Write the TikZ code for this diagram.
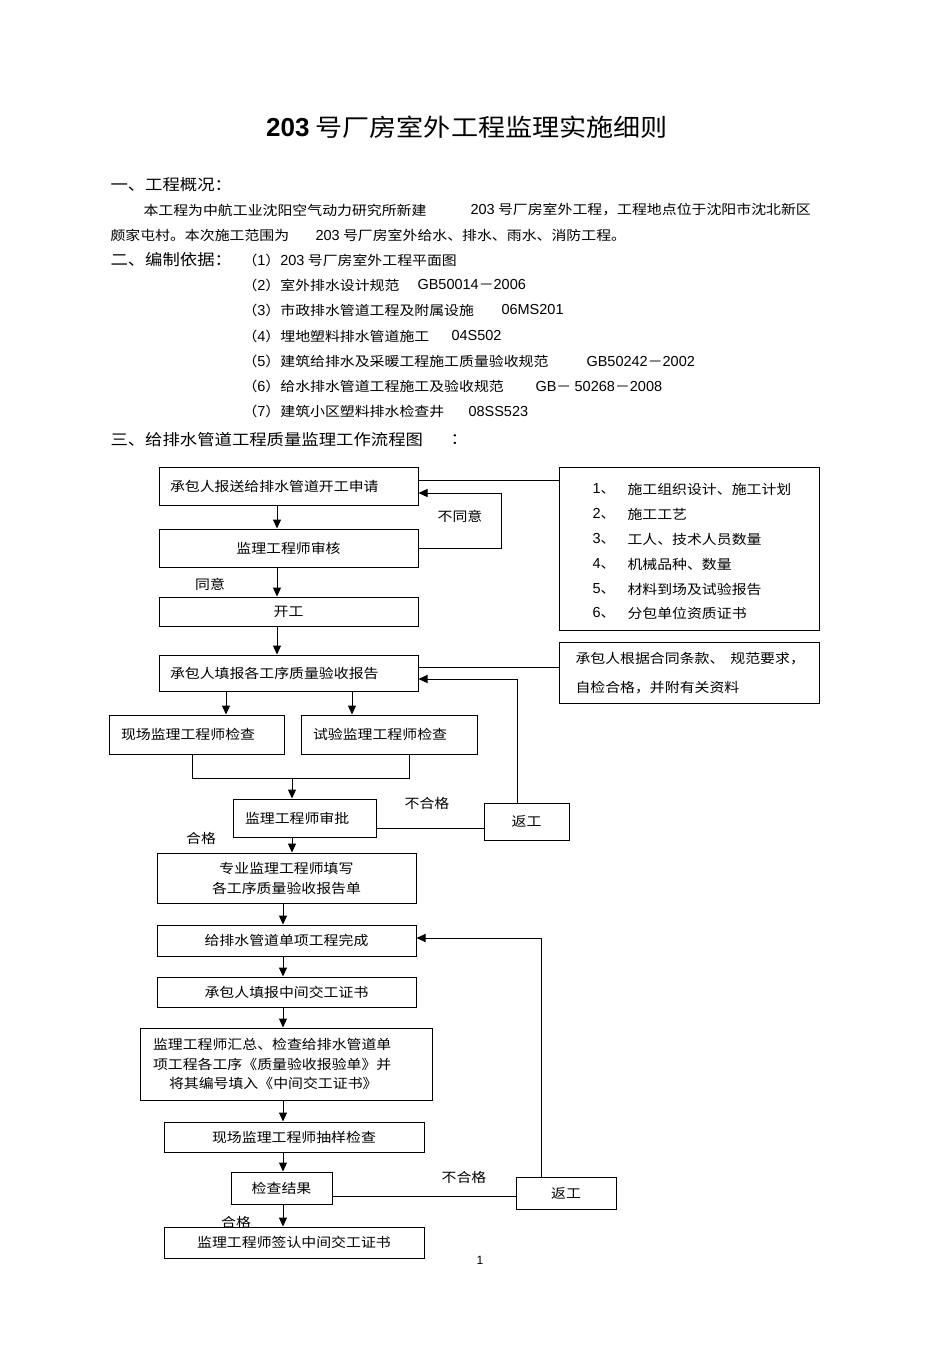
\documentclass[tikz,border=0pt]{standalone}
\usepackage{fontspec}
\setmainfont{Liberation Sans}
\newfontfamily\cjk[FakeStretch=1.12]{Noto Sans CJK SC}
\newfontfamily\latf{Liberation Sans}
\newcommand\latn[1]{{\latf\fontsize{14.5}{19.5}\selectfont #1}}
\usetikzlibrary{arrows.meta}
\begin{document}
\begin{tikzpicture}[x=1pt,y=-1pt,line width=1pt,
  box/.style={draw, inner sep=0pt, font=\cjk\fontsize{13.3}{20}\selectfont, align=center},
  txt/.style={inner sep=0pt, anchor=west, font=\cjk\fontsize{13.3}{20}\selectfont},
  lbl/.style={inner sep=0pt, font=\cjk\fontsize{13.3}{20}\selectfont},
  hd/.style={txt, font=\cjk\fontsize{15.5}{20}\selectfont},
  arr/.style={-{Triangle[length=9pt,width=8pt]}}]
\path[fill=white, use as bounding box] (0,0) rectangle (950,1345);

% ---------- header text ----------
\node[inner sep=0pt] (title) at (467,127) {{\latf\bfseries\fontsize{26}{30}\selectfont 203}\hspace{6pt}{\cjk\fontsize{24.2}{30}\selectfont 号厂房室外工程监理实施细则}};
\node[hd] (h1) at (110,185) {一、工程概况：};
\node[txt] (p1a) at (143,210) {本工程为中航工业沈阳空气动力研究所新建};
\node[txt] (p1b) at (470,210) {\latn{203} 号厂房室外工程，工程地点位于沈阳市沈北新区};
\node[txt] (p2a) at (110,235) {颇家屯村。本次施工范围为};
\node[txt] (p2b) at (315,235) {\latn{203} 号厂房室外给水、排水、雨水、消防工程。};
\node[hd] (h2) at (110,260) {二、编制依据：};
\node[txt] (s1) at (242,260) {（\latn{1}）\latn{203} 号厂房室外工程平面图};
\node[txt] (s2) at (242,285) {（\latn{2}）室外排水设计规范};
\node[txt] (s2c) at (417,285) {\latn{GB50014}－\latn{2006}};
\node[txt] (s3) at (242,310) {（\latn{3}）市政排水管道工程及附属设施};
\node[txt] (s3c) at (501,310) {\latn{06MS201}};
\node[txt] (s4) at (242,336) {（\latn{4}）埋地塑料排水管道施工};
\node[txt] (s4c) at (451,336) {\latn{04S502}};
\node[txt] (s5) at (242,361) {（\latn{5}）建筑给排水及采暖工程施工质量验收规范};
\node[txt] (s5c) at (586,361) {\latn{GB50242}－\latn{2002}};
\node[txt] (s6) at (242,386) {（\latn{6}）给水排水管道工程施工及验收规范};
\node[txt] (s6c) at (535,386) {\latn{GB}－ \latn{50268}－\latn{2008}};
\node[txt] (s7) at (242,411) {（\latn{7}）建筑小区塑料排水检查井};
\node[txt] (s7c) at (468,411) {\latn{08SS523}};
\node[hd] (h3) at (110,440) {三、给排水管道工程质量监理工作流程图};
\node[hd] (h3c) at (450,440) {：};

% ---------- flowchart boxes ----------
\node[box, minimum width=259pt, minimum height=38pt, text width=237pt, align=left] (b1) at (288.5,486) {承包人报送给排水管道开工申请};
\node[box, minimum width=259pt, minimum height=38pt] (b2) at (288.5,548) {监理工程师审核};
\node[box, minimum width=259pt, minimum height=29pt] (b3) at (288.5,611.5) {开工};
\node[box, minimum width=259pt, minimum height=36pt, text width=237pt, align=left] (b4) at (288.5,673) {承包人填报各工序质量验收报告};
\node[box, minimum width=175pt, minimum height=39pt, text width=151pt, align=left] (b5) at (196.5,734.5) {现场监理工程师检查};
\node[box, minimum width=176pt, minimum height=39pt, text width=152pt, align=left] (b6) at (389,734.5) {试验监理工程师检查};
\node[box, minimum width=143pt, minimum height=38pt, text width=119pt, align=left] (b7) at (304.5,818) {监理工程师审批};
\node[box, minimum width=85pt, minimum height=37pt] (r1) at (526.5,821.5) {返工};
\node[box, minimum width=259pt, minimum height=50pt] (b8) at (286.5,878) {专业监理工程师填写\\各工序质量验收报告单};
\node[box, minimum width=259pt, minimum height=31pt] (b9) at (286.5,940.5) {给排水管道单项工程完成};
\node[box, minimum width=259pt, minimum height=30pt] (b10) at (286.5,992) {承包人填报中间交工证书};
\node[box, minimum width=292pt, minimum height=72pt, text width=266pt, align=left, font=\cjk\fontsize{13.3}{19.5}\selectfont] (b11) at (286,1064) {监理工程师汇总、检查给排水管道单\\项工程各工序《质量验收报验单》并\\\hspace*{16pt}将其编号填入《中间交工证书》};
\node[box, minimum width=260pt, minimum height=30pt] (b12) at (294,1137) {现场监理工程师抽样检查};
\node[box, minimum width=101pt, minimum height=32pt] (b13) at (281.5,1188) {检查结果};
\node[box, minimum width=100pt, minimum height=32pt] (r2) at (566,1193) {返工};
\node[box, minimum width=260pt, minimum height=31pt] (b14) at (294,1242.5) {监理工程师签认中间交工证书};

% right side boxes
\node[box, minimum width=260pt, minimum height=163pt] (n1) at (689,548.5) {};
\node[txt] (i1n) at (592,489) {\latn{1}、};
\node[txt] (i1) at (627,489) {施工组织设计、施工计划};
\node[txt] (i2n) at (592,514) {\latn{2}、};
\node[txt] (i2) at (627,514) {施工工艺};
\node[txt] (i3n) at (592,539) {\latn{3}、};
\node[txt] (i3) at (627,539) {工人、技术人员数量};
\node[txt] (i4n) at (592,564) {\latn{4}、};
\node[txt] (i4) at (627,564) {机械品种、数量};
\node[txt] (i5n) at (592,589) {\latn{5}、};
\node[txt] (i5) at (627,589) {材料到场及试验报告};
\node[txt] (i6n) at (592,613) {\latn{6}、};
\node[txt] (i6) at (627,613) {分包单位资质证书};
\node[box, minimum width=260pt, minimum height=61pt] (n2) at (689,672.5) {};
\node[txt] (n2a) at (575,659) {承包人根据合同条款、\hspace{6pt}规范要求，};
\node[txt] (n2b) at (575,688) {自检合格，并附有关资料};

% labels
\node[lbl] (l1) at (460,516) {不同意};
\node[lbl] (l2) at (210,584) {同意};
\node[lbl] (l3) at (427,803) {不合格};
\node[lbl] (l4) at (201,838) {合格};
\node[lbl] (l5) at (464,1177) {不合格};
\node[lbl] (l6) at (236,1222) {合格};
\node[inner sep=0pt, font=\latf\fontsize{12}{14}\selectfont] (pg) at (480,1260) {1};

% ---------- connectors ----------
\coordinate (ax) at (277,0);
\coordinate (bx) at (292,0);
\coordinate (cx) at (283,0);
\coordinate (dl) at (226,0);
\coordinate (dr) at (352,0);
\coordinate (L1) at (501,493);
\coordinate (T1) at (0,480);
\coordinate (T2) at (0,667);
\coordinate (T3) at (0,828);
\coordinate (T4) at (0,1196);
\coordinate (R1) at (517,679);
\coordinate (R2) at (541,938);
\coordinate (m1) at (192,778);
\coordinate (m2) at (409,778);
\coordinate (m3) at (292,778);

\draw[arr] (b1.south -| ax) -- (b2.north -| ax);
\draw[arr] (b2.south -| ax) -- (b3.north -| ax);
\draw[arr] (b3.south -| ax) -- (b4.north -| ax);
\draw[arr] (b2.east) -| (L1) -- (b1.east |- L1);
\draw (b1.east |- T1) -- (n1.west |- T1);
\draw (b4.east |- T2) -- (n2.west |- T2);
\draw[arr] (b4.south -| dl) -- (b5.north -| dl);
\draw[arr] (b4.south -| dr) -- (b6.north -| dr);
\draw (b5.south -| m1) -- (m1) -- (m2) -- (b6.south -| m2);
\draw[arr] (m3) -- (b7.north -| m3);
\draw (b7.east |- T3) -- (r1.west |- T3);
\draw[arr] (r1.north -| R1) -- (R1) -- (b4.east |- R1);
\draw[arr] (b7.south -| bx) -- (b8.north -| bx);
\draw[arr] (b8.south -| cx) -- (b9.north -| cx);
\draw[arr] (b9.south -| cx) -- (b10.north -| cx);
\draw[arr] (b10.south -| cx) -- (b11.north -| cx);
\draw[arr] (b11.south -| cx) -- (b12.north -| cx);
\draw[arr] (b12.south -| cx) -- (b13.north -| cx);
\draw[arr] (b13.south -| cx) -- (b14.north -| cx);
\draw (b13.east |- T4) -- (r2.west |- T4);
\draw[arr] (r2.north -| R2) -- (R2) -- (b9.east |- R2);
\end{tikzpicture}
\end{document}
